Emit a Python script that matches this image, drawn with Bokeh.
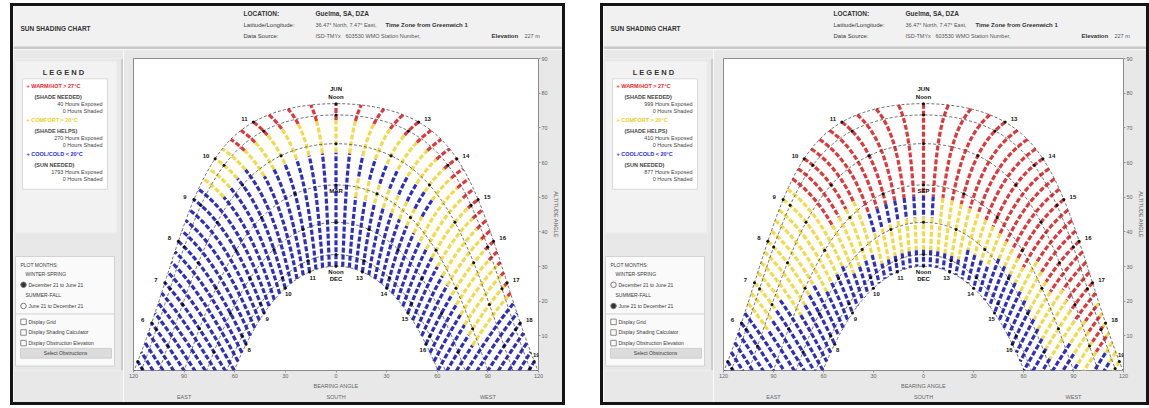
import numpy as np
from bokeh.plotting import figure
from bokeh.layouts import row, column
from bokeh.models import Range1d, FixedTicker, LinearAxis, ColumnDataSource, Spacer
from bokeh.core.properties import value
from bokeh.embed import file_html
from bokeh.resources import INLINE

FONT = "Liberation Sans"

# ---------------- data ----------------
LOCATION = "Guelma, SA, DZA"
LAT_LON_TEXT = "36.47° North, 7.47° East,"
TIME_ZONE_TEXT = "Time Zone from Greenwich 1"
DATA_SOURCE = "ISD-TMYx"
STATION_ID = "603530"
STATION_TEXT = "WMO Station Number,"
ELEVATION_TEXT = "227 m"

LATITUDE = 36.47
MAX_DECLINATION = 23.45
DATE_PATH_DECL = [23.45, 20.2, 11.9, 0.0, -10.8, -20.1, -23.45]

BEARING_TICKS = [-120, -90, -60, -30, 0, 30, 60, 90, 120]
BEARING_LABELS = ["120", "90", "60", "30", "0", "30", "60", "90", "120"]
COMPASS_TICKS = [-90, 0, 90]
COMPASS_LABELS = ["EAST", "SOUTH", "WEST"]
ALTITUDE_TICKS = [10, 20, 30, 40, 50, 60, 70, 80, 90]

OUTER_HOURS = [6, 7, 8, 9, 10, 11, 13, 14, 15, 16, 17, 18, 19]
INNER_HOURS = [8, 9, 10, 11, 13, 14, 15, 16]
GRID_HOURS = list(range(5, 20))
TIME_STEP_HOURS = 0.25

# rows: half-month steps through the plotted half year; columns: solar hours 5..19
# C = cool/cold (blue), M = comfort (yellow), H = warm/hot (red)
WINTER_SPRING_CLASSES = [
    "CCCCCCCCCCCCCCC",  # Dec 21
    "CCCCCCCCCCCCCCC",  # Jan 5
    "CCCCCCCCCCCCCCC",  # Jan 21
    "CCCCCCCCCCCCCCC",  # Feb 5
    "CCCCCCCCCCCCCCC",  # Feb 21
    "CCCCCCCCCCCCCCC",  # Mar 7
    "CCCCCCCCMMMMMCC",  # Mar 21
    "CCCCCCCCCCMMMCC",  # Apr 5
    "CCCCCCMMMMMMMCC",  # Apr 21
    "CCCCCMMMMMMMMCC",  # May 6
    "CCCCCMHHHHHHMCC",  # May 21
    "CCCCCMHHHHHHHCC",  # Jun 5
    "CCCCCMHHHHHHHCC",  # Jun 21
]
SUMMER_FALL_CLASSES = [
    "CCMMMHHHHHHHHMM",  # Jun 21
    "CCMMMHHHHHHHHMM",  # Jul 6
    "CCMMMHHHHHHHHHM",  # Jul 21
    "CCMMMHHHHHHHHHC",  # Aug 5
    "CCMMMHHHHHHHHMC",  # Aug 21
    "CCCMMHHHHHHHMMC",  # Sep 6
    "CCCMMMHHHHHMMCC",  # Sep 21
    "CCCCMMCCMMMMMCC",  # Oct 6
    "CCCCCMMMMMCCCCC",  # Oct 21
    "CCCCCCMMMCCCCCC",  # Nov 5
    "CCCCCCCCCCCCCCC",  # Nov 21
    "CCCCCCCCCCCCCCC",  # Dec 6
    "CCCCCCCCCCCCCCC",  # Dec 21
]

LEGEND_LABELS = ["+ WARM/HOT > 27°C", "+ COMFORT > 20°C", "+ COOL/COLD < 20°C"]
LEGEND_NOTES = ["(SHADE NEEDED)", "(SHADE HELPS)", "(SUN NEEDED)"]
WINTER_SPRING_EXPOSED = [40, 270, 1793]
SUMMER_FALL_EXPOSED = [999, 410, 877]
SHADED_HOURS = [0, 0, 0]

CLASS_COLORS = {"H": "#e0383a", "M": "#f2da48", "C": "#2f2fbf"}
LEGEND_COLORS = ["#e8262c", "#e9cf1c", "#2a2ae0"]

HEADER_BG = "#f1f1f1"
BODY_BG = "#e8e8e8"
HEADER_H = 43
BODY_H = 353
SIDEBAR_W = 110


# ---------------- helpers ----------------
def sun(decl, hour):
    lat = np.radians(LATITUDE)
    d = np.radians(np.asarray(decl, dtype=float))
    h = np.radians(15.0 * (np.asarray(hour, dtype=float) - 12.0))
    s = np.sin(lat) * np.sin(d) + np.cos(lat) * np.cos(d) * np.cos(h)
    alt = np.degrees(np.arcsin(np.clip(s, -1, 1)))
    az = np.degrees(np.arctan2(np.sin(h), np.cos(h) * np.sin(lat) - np.tan(d) * np.cos(lat)))
    return az, alt


def txt(p, x, y, s, size="5.5px", bold=False, color="#3a3a3a", align="left"):
    p.text(x=[x], y=[y], text=[s], text_font=value(FONT), text_font_size=size,
           text_font_style="bold" if bold else "normal", text_color=color,
           text_align=align, text_baseline="middle")


def pixel_fig(w, h, bg):
    p = figure(width=w, height=h, x_range=Range1d(0, w), y_range=Range1d(h, 0),
               x_axis_type=None, y_axis_type=None, output_backend="svg",
               toolbar_location=None, min_border=0, background_fill_color=bg,
               border_fill_color=bg, outline_line_color=None)
    p.grid.visible = False
    return p


def make_header(w):
    p = pixel_fig(w, HEADER_H, HEADER_BG)
    txt(p, 7, 22, "SUN SHADING CHART", size="6.5px", bold=True, color="#333")
    txt(p, 230, 7, "LOCATION:", size="6.5px", bold=True, color="#333")
    txt(p, 302, 7, LOCATION, size="6.5px", bold=True, color="#333")
    txt(p, 230, 18, "Latitude/Longitude:", size="6px")
    txt(p, 302, 18, LAT_LON_TEXT, size="5.5px", color="#555")
    txt(p, 372, 18, TIME_ZONE_TEXT, size="6px", bold=True, color="#333")
    txt(p, 230, 29, "Data Source:", size="6px")
    txt(p, 302, 29, DATA_SOURCE, size="5.5px", color="#555")
    txt(p, 332, 29, STATION_ID, size="5.5px", color="#555")
    txt(p, 352, 29, STATION_TEXT, size="5.5px", color="#555")
    txt(p, min(w - 62, 478), 29, "Elevation", size="6px", bold=True, color="#333")
    txt(p, min(w - 29, 511), 29, ELEVATION_TEXT, size="5.5px", color="#555")
    p.quad(left=[0], right=[w], top=[HEADER_H - 3], bottom=[HEADER_H], fill_color="#c9c9c9",
           line_color=None)
    return p


def make_sidebar(exposed, winter_selected):
    p = pixel_fig(SIDEBAR_W, BODY_H, BODY_BG)
    p.quad(left=[2], right=[103], top=[3], bottom=[197], fill_color="#f2f2f2", line_color=None)
    p.quad(left=[9], right=[94], top=[23], bottom=[148], fill_color="white", line_color="#dadada")
    txt(p, 50, 16, "L E G E N D", size="7.5px", bold=True, color="#333", align="center")
    y0 = [31, 70, 108]
    for i in range(3):
        y = y0[i]
        txt(p, 13, y, LEGEND_LABELS[i], size="5.5px", bold=True, color=LEGEND_COLORS[i])
        txt(p, 21, y + 12, LEGEND_NOTES[i], size="5.5px", bold=True, color="#444")
        txt(p, 89, y + 20, "%d Hours Exposed" % exposed[i], size="5.5px", color="#444", align="right")
        txt(p, 89, y + 28, "%d Hours Shaded" % SHADED_HOURS[i], size="5.5px", color="#444", align="right")
    # lower options box
    p.quad(left=[2], right=[101], top=[224], bottom=[348], fill_color="#fafafa", line_color="#d2d2d2")
    txt(p, 7, 234, "PLOT MONTHS:", size="5px")
    txt(p, 12, 244, "WINTER-SPRING", size="5px")
    txt(p, 15, 256, "December 21 to June 21", size="5px")
    txt(p, 12, 268, "SUMMER-FALL", size="5px")
    txt(p, 15, 280, "June 21 to December 21", size="5px")
    p.scatter(x=[10, 10], y=[256, 280], marker="circle", size=5.5,
              fill_color=["#333" if winter_selected else "white", "white" if winter_selected else "#333"],
              line_color="#777")
    p.segment(x0=[2], y0=[289], x1=[101], y1=[289], line_color="#d2d2d2", line_width=1)
    for yy, s in zip([298, 310, 322], ["Display Grid", "Display Shading Calculator",
                                       "Display Obstruction Elevation"]):
        p.scatter(x=[10], y=[yy], marker="square", size=5.5, fill_color="white", line_color="#888")
        txt(p, 15, yy, s, size="5px")
    p.quad(left=[7], right=[98], top=[328], bottom=[339], fill_color="#dcdcdc", line_color="#cfcfcf")
    txt(p, 52, 333.5, "Select Obstructions", size="5px", align="center")
    p.segment(x0=[SIDEBAR_W - 1.5], y0=[0], x1=[SIDEBAR_W - 1.5], y1=[BODY_H],
              line_color="#c4c4c4", line_width=1.5)
    return p


def make_chart(classes, winter, width, mbl, mbr):
    p = figure(width=width, height=BODY_H, x_range=Range1d(-120, 120), y_range=Range1d(0, 90),
               y_axis_location="right", output_backend="svg", toolbar_location=None,
               min_border_left=mbl, min_border_right=mbr, min_border_top=9, min_border_bottom=30,
               background_fill_color="white", border_fill_color=BODY_BG,
               outline_line_color="#8c8c8c", outline_line_width=1)
    p.grid.visible = False

    # 15-minute sun positions through the half year, coloured by thermal class
    days = np.arange(0, 183)
    sign = -1.0 if winter else 1.0
    decl = sign * MAX_DECLINATION * np.cos(2 * np.pi * days / 365.0)
    rows = np.clip(np.rint(days / 182.5 * 12).astype(int), 0, 12)
    xs, ys, cols = [], [], []
    for t in np.arange(4.5, 19.5 + 1e-6, TIME_STEP_HOURS):
        az, alt = sun(decl, t)
        hidx = int(np.clip(np.floor(t + 0.5) - GRID_HOURS[0], 0, len(GRID_HOURS) - 1))
        cls = [classes[r][hidx] for r in rows]
        valid = alt > -2
        n = len(days)
        i = 0
        while i < n:
            if not valid[i]:
                i += 1
                continue
            j = i
            while j + 1 < n and valid[j + 1] and cls[j + 1] == cls[i]:
                j += 1
            end = j + 1 if (j + 1 < n and valid[j + 1]) else j
            if end > i:
                xs.append(list(az[i:end + 1]))
                ys.append(list(alt[i:end + 1]))
                cols.append(CLASS_COLORS[cls[i]])
            i = j + 1
    p.multi_line(xs=xs, ys=ys, line_color=cols, line_width=3.2, line_dash="5 2")

    # date paths (21st of each month)
    hrs = np.linspace(4, 20, 400)
    axs, ays = [], []
    for dcl in DATE_PATH_DECL:
        az, alt = sun(dcl, hrs)
        m = alt > -2
        axs.append(list(az[m]))
        ays.append(list(alt[m]))
    p.multi_line(xs=axs, ys=ays, line_color="#333333", line_width=0.8, line_dash="3 2", line_alpha=0.9)

    # hour dots on date paths
    dx, dy = [], []
    for dcl in DATE_PATH_DECL:
        az, alt = sun(dcl, GRID_HOURS)
        for a, b in zip(az, alt):
            if b > 0.5:
                dx.append(a)
                dy.append(b)
    p.scatter(x=dx, y=dy, size=3, fill_color="#111", line_color=None)

    # hour labels
    oaz, oalt = sun(DATE_PATH_DECL[0], OUTER_HOURS)
    iaz, ialt = sun(DATE_PATH_DECL[-1], INNER_HOURS)
    lab = ColumnDataSource(dict(
        x=list(oaz) + list(iaz),
        y=list(oalt) + list(ialt),
        text=[str(h) for h in OUTER_HOURS] + [str(h) for h in INNER_HOURS],
        xo=[(-9 if h < 12 else (2 if h == 19 else 9)) for h in OUTER_HOURS]
           + [(3 if h < 12 else -3) for h in INNER_HOURS],
        yo=[(-6 if h == 19 else -3) for h in OUTER_HOURS] + [6 for h in INNER_HOURS],
    ))
    p.text(x="x", y="y", text="text", x_offset="xo", y_offset="yo", source=lab,
           text_font=value(FONT), text_font_size="6px", text_font_style="bold",
           text_color="#111", text_align="center", text_baseline="middle")

    _, top_alt = sun(DATE_PATH_DECL[0], 12)
    _, mid_alt = sun(DATE_PATH_DECL[3], 12)
    _, low_alt = sun(DATE_PATH_DECL[-1], 12)
    cen = ColumnDataSource(dict(
        x=[0, 0, 0, 0, 0],
        y=[float(top_alt), float(top_alt), float(mid_alt), float(low_alt), float(low_alt)],
        text=["JUN", "Noon", "MAR" if winter else "SEP", "Noon", "DEC"],
        yo=[-15, -7, 6, 6, 13],
    ))
    p.text(x="x", y="y", text="text", y_offset="yo", source=cen,
           text_font=value(FONT), text_font_size="6px", text_font_style="bold",
           text_color="#111", text_align="center", text_baseline="middle")

    # axes
    xa = p.xaxis[0]
    xa.ticker = FixedTicker(ticks=BEARING_TICKS)
    xa.major_label_overrides = {t: s for t, s in zip(BEARING_TICKS, BEARING_LABELS)}
    xa.axis_label = "BEARING ANGLE"
    ya = p.yaxis[0]
    ya.ticker = FixedTicker(ticks=ALTITUDE_TICKS)
    ya.axis_label = "ALTITUDE ANGLE"
    comp = LinearAxis(ticker=FixedTicker(ticks=COMPASS_TICKS),
                      major_label_overrides={t: s for t, s in zip(COMPASS_TICKS, COMPASS_LABELS)})
    p.add_layout(comp, "below")
    for ax in [xa, ya, comp]:
        ax.axis_line_color = None
        ax.major_tick_line_color = "#999"
        ax.major_tick_in = 0
        ax.major_tick_out = 2
        ax.minor_tick_line_color = None
        ax.major_label_text_font = FONT
        ax.major_label_text_font_size = "5.5px"
        ax.major_label_text_color = "#666"
        ax.major_label_standoff = 1
        ax.axis_label_text_font = FONT
        ax.axis_label_text_font_size = "5.5px"
        ax.axis_label_text_font_style = "normal"
        ax.axis_label_text_color = "#666"
        ax.axis_label_standoff = 2
    comp.major_tick_line_color = None
    comp.major_label_standoff = 0
    return p


def make_panel(winter, outer_w):
    inner_w = outer_w - 6
    header = make_header(inner_w)
    side = make_sidebar(WINTER_SPRING_EXPOSED if winter else SUMMER_FALL_EXPOSED, winter)
    chart = make_chart(WINTER_SPRING_CLASSES if winter else SUMMER_FALL_CLASSES, winter,
                       inner_w - SIDEBAR_W, 10, 24 if winter else 19)
    return column(header, row(side, chart), styles={"border": "3px solid #151515"})


left = make_panel(True, 555)
right = make_panel(False, 549)
page = column(Spacer(width=10, height=3),
              row(Spacer(width=10, height=10), left, Spacer(width=35, height=10), right))

open("out.html", "w").write(file_html(page, INLINE))
